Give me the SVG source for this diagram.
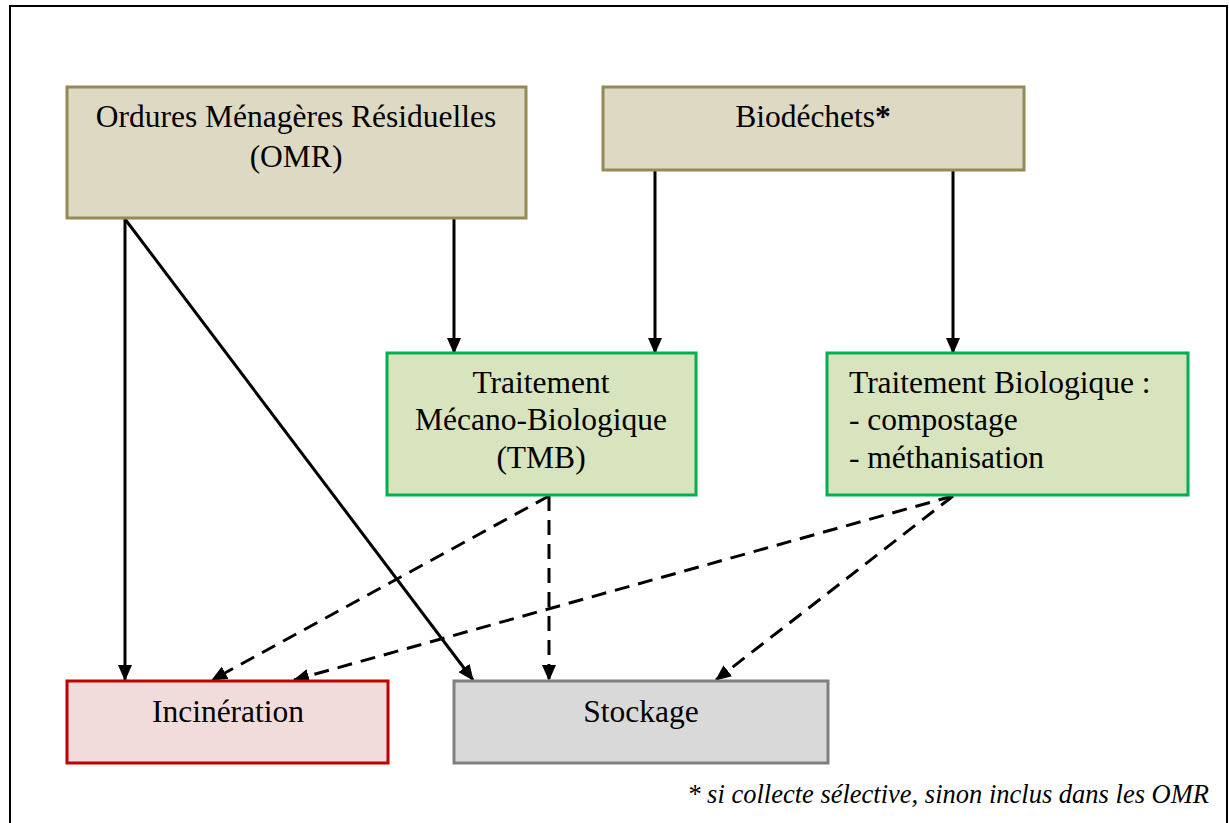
<svg xmlns="http://www.w3.org/2000/svg" width="1229" height="823" viewBox="0 0 1229 823">
  <style>
    .lbl { font-family: "Liberation Serif", "Times New Roman", serif; font-size: 31.5px; fill: #000; }
    .note { font-family: "Liberation Serif", "Times New Roman", serif; font-size: 26.5px; font-style: italic; fill: #000; }
    .src { fill: #DDD9C3; stroke: #948A54; stroke-width: 3; }
    .trt { fill: #D7E4BD; stroke: #00B050; stroke-width: 3; }
    .inc { fill: #F2DCDB; stroke: #C00000; stroke-width: 3; }
    .sto { fill: #D9D9D9; stroke: #808080; stroke-width: 3; }
    .flow { stroke: #000; stroke-width: 3; fill: none; marker-end: url(#head); }
    .dash { stroke-dasharray: 15 9; }
  </style>
  <defs>
    <marker id="head" markerUnits="userSpaceOnUse" markerWidth="16" markerHeight="14" refX="15" refY="7" orient="auto">
      <path d="M0,0 L16,7 L0,14 Z" fill="#000"/>
    </marker>
  </defs>

  <rect x="0" y="0" width="1229" height="823" fill="#fff"/>
  <!-- frame -->
  <path d="M10,823 L10,6 L1227,6 L1227,823" fill="none" stroke="#000" stroke-width="2"/>

  <g id="connectors">
    <line class="flow" x1="125" y1="219" x2="125" y2="680"/>
    <line class="flow" x1="125" y1="219" x2="473" y2="680"/>
    <line class="flow" x1="454" y1="219" x2="454" y2="353"/>
    <line class="flow" x1="655" y1="171" x2="655" y2="353"/>
    <line class="flow" x1="953" y1="171" x2="953" y2="353"/>
    <line class="flow dash" x1="549" y1="496" x2="212" y2="680"/>
    <line class="flow dash" x1="549" y1="496" x2="549" y2="680"/>
    <line class="flow dash" x1="953" y1="496" x2="294" y2="680"/>
    <line class="flow dash" x1="953" y1="496" x2="716" y2="680"/>
  </g>

  <g id="omr">
    <rect class="src" x="67" y="87" width="459" height="131"/>
    <text class="lbl" x="296" y="127" text-anchor="middle">Ordures Ménagères Résiduelles</text>
    <text class="lbl" x="296" y="167" text-anchor="middle">(OMR)</text>
  </g>

  <g id="biodechets">
    <rect class="src" x="603" y="87" width="421" height="83"/>
    <text class="lbl" x="813" y="127" text-anchor="middle">Biodéchets<tspan font-weight="bold">*</tspan></text>
  </g>

  <g id="tmb">
    <rect class="trt" x="387" y="353" width="309" height="142"/>
    <text class="lbl" x="541" y="393" text-anchor="middle">Traitement</text>
    <text class="lbl" x="541" y="430" text-anchor="middle">Mécano-Biologique</text>
    <text class="lbl" x="541" y="468" text-anchor="middle">(TMB)</text>
  </g>

  <g id="traitement-bio">
    <rect class="trt" x="827" y="353" width="361" height="142"/>
    <text class="lbl" x="849" y="393">Traitement Biologique :</text>
    <text class="lbl" x="849" y="430">- compostage</text>
    <text class="lbl" x="849" y="468">- méthanisation</text>
  </g>

  <g id="incineration">
    <rect class="inc" x="67" y="681" width="321" height="82"/>
    <text class="lbl" x="228" y="722" text-anchor="middle">Incinération</text>
  </g>

  <g id="stockage">
    <rect class="sto" x="454" y="681" width="374" height="82"/>
    <text class="lbl" x="641" y="722" text-anchor="middle">Stockage</text>
  </g>

  <text class="note" x="1209" y="803" text-anchor="end">* si collecte sélective, sinon inclus dans les OMR</text>
</svg>
